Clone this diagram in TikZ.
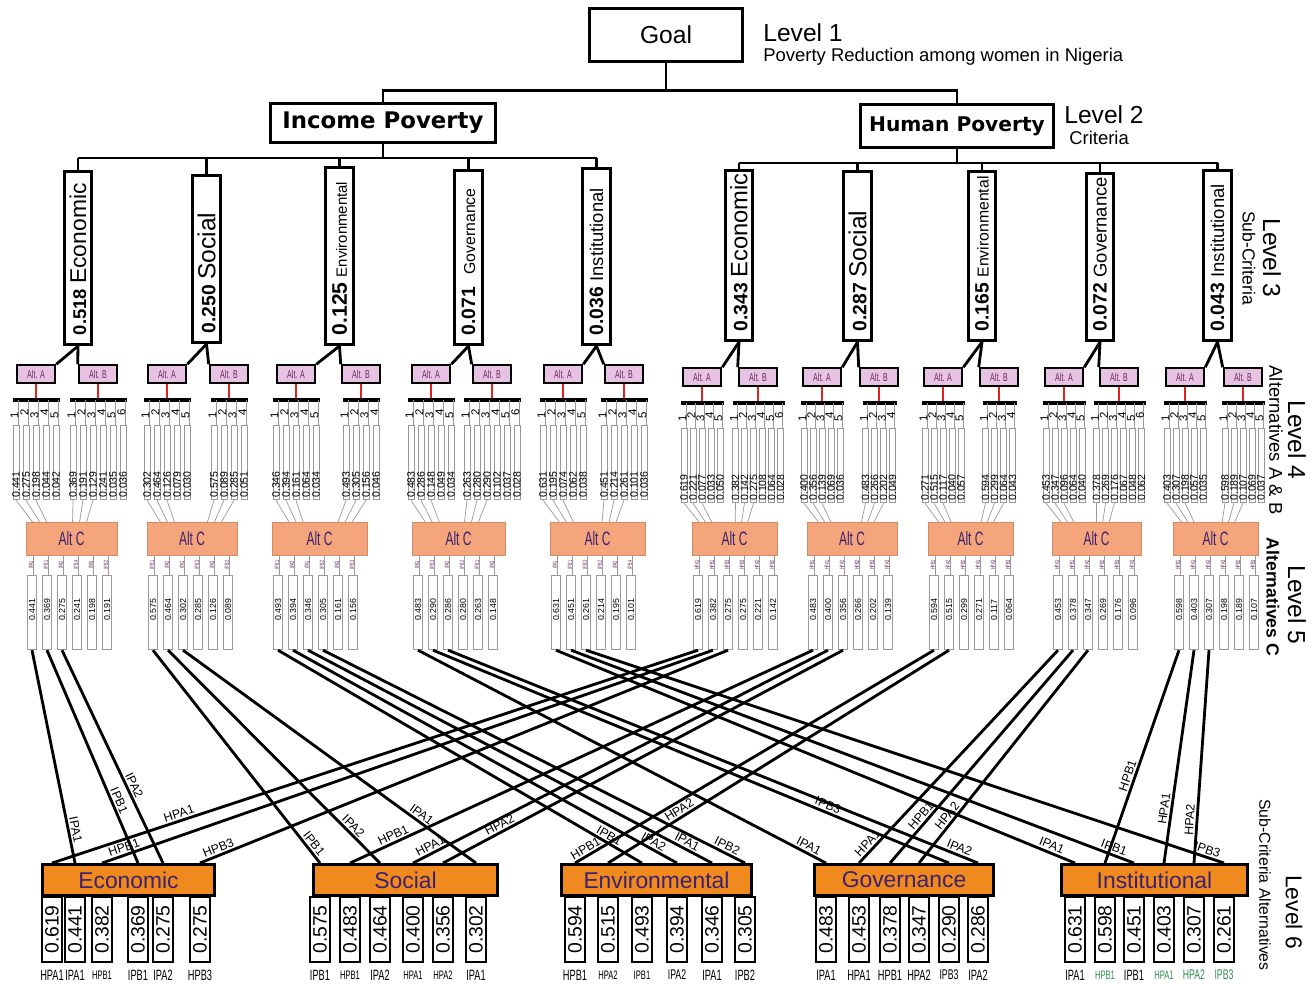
\documentclass[tikz,border=0pt]{standalone}
\usepackage{fontspec}
\setmainfont{Liberation Sans}
\newfontfamily\narrowfont[FakeStretch=0.62]{Liberation Sans}
\newfontfamily\heavyfont{DejaVu Sans}
\definecolor{altPink}{HTML}{E8C2E2}
\definecolor{altRed}{HTML}{E2231B}
\definecolor{altSalmon}{HTML}{F4A57C}
\definecolor{subOrange}{HTML}{F08A1F}
\definecolor{inkPurple}{HTML}{3B2170}
\definecolor{inkPlum}{HTML}{6A2A5E}
\definecolor{labGreen}{HTML}{2F8F4F}
\definecolor{boxGray}{HTML}{999999}
\newcommand{\fsz}[1]{\fontsize{#1}{#1}\selectfont}

% sub-criterion box of level 3
\newcommand{\subc}[8]{%
  \pgfmathsetmacro\boxh{(#4-#3)*0.5669}
  \node[scbox, minimum height=\boxh pt] (#1) at (#2,{(#3+#4)/2}) {};
  \node[sctext] (#1t) at ([yshift=6pt]#1.south) {{\fsz{#6}\bfseries #5}\hspace{3pt}{\fsz{#8}#7}};
}

% alternative A or B with its ranked values (level 4)
\newcommand{\altab}[8]{%
  \node[altbox] (#1) at (#2,374+#3) {#4};
  \coordinate (#1bar) at (#2,400+#3);
  \draw[redlink] (#1.south) -- (#1bar);
  \pgfmathsetmacro\barl{#2-(#5-1)*#6/2-3}
  \pgfmathsetmacro\barr{#2+(#5-1)*#6/2+4}
  \draw[barline] (\barl,400+#3) -- (\barr,400+#3);
  \foreach \v [count=\i] in {#8}{
    \pgfmathsetmacro\rx{#2+(\i-(#5+1)/2)*#6}
    \draw[thinl] (\rx+2,400+#3) -- (\rx+2,425+#3);
    \node[tickno] at (\rx-1.5,{412+#3+mod(\i,2)*3}) {\i};
    \node[valbox] (#1r\i) at (\rx,462.5+#3) {};
    \node[valtxt] at (\rx,498+#3) {\v};
    \ifnum\i<4
      \pgfmathsetmacro\lx{\rx+0.3*(#7-\rx)}
      \coordinate (#1f\i) at (\lx,522);
      \draw[thinl] (#1r\i.south) -- (#1f\i);
    \fi
  }
}

% alternative C with its ranked values (level 5)
\newcommand{\altc}[4]{%
  \pgfmathsetmacro\boxw{(#3-#2)*0.5669}
  \node[altcbox, minimum width=\boxw pt] (#1) at ({(#2+#3)/2},538.5) {Alt C};
  \foreach \l/\v [count=\i] in {#4}{
    \pgfmathsetmacro\rx{#2+6+(\i-1)*15}
    \draw[thinl] (\rx+1.5,555) -- (\rx+1.5,575);
    \node[tinylab] at (\rx-1,565) {\l};
    \node[cbox] (#1r\i) at (\rx,612.5) {};
    \node[ctxt] at (\rx,610) {\v};
  }
}

% sub-criteria alternatives (level 6)
\newcommand{\subalt}[5]{%
  \pgfmathsetmacro\boxw{#3*0.5669}
  \node[l6box, minimum width=\boxw pt] (#1) at (#2,880) {#4};
  \foreach \x/\v/\l/\s/\c [count=\i] in {#5}{
    \node[l6val] (#1r\i) at (\x,929.5) {\v};
    \node[l6lab, text=\c] (#1l\i) at (\x,975) {\fsz{\s}\l};
  }
}

\newcommand{\crossLink}[5]{%
  \draw[link] (#1.south) -- (#3 |- #2.north) node[linklab, pos=#5] {#4};
}

\begin{document}
\begin{tikzpicture}[x=0.02cm,y=-0.02cm,
  tree/.style={line width=1.6pt},
  goalbox/.style={draw, line width=1.7pt, minimum width=87.3pt, minimum height=30pt, font=\fsz{14}},
  critbox/.style={draw, line width=1.7pt, inner sep=0pt, font=\heavyfont\bfseries\fsz{13}},
  lvltxt/.style={anchor=west, inner sep=0pt, font=\fsz{14}},
  subtxt/.style={anchor=west, inner sep=0pt, font=\fsz{10.5}},
  scbox/.style={draw, line width=1.6pt, minimum width=15.5pt, inner sep=0pt},
  sctext/.style={rotate=90, anchor=west, inner sep=0pt},
  altbox/.style={draw, line width=1.1pt, fill=altPink, minimum width=22pt, minimum height=10pt, inner sep=0pt, font=\narrowfont\fsz{6.5}, text=inkPlum},
  redlink/.style={altRed, line width=1.6pt},
  barline/.style={line width=1.8pt},
  thinl/.style={boxGray, line width=0.4pt},
  tickno/.style={rotate=90, inner sep=0pt, font=\fsz{6.5}},
  valbox/.style={draw=boxGray, line width=0.4pt, minimum width=3.4pt, minimum height=42.5pt, inner sep=0pt},
  valtxt/.style={rotate=90, anchor=west, inner sep=0pt, font=\fsz{6}},
  altcbox/.style={fill=altSalmon, draw=altSalmon!85!black, line width=0.3pt, minimum height=18.7pt, inner sep=0pt, font=\narrowfont\fsz{11}, text=inkPurple},
  tinylab/.style={rotate=90, inner sep=0pt, font=\narrowfont\fsz{3.5}, text=inkPlum},
  cbox/.style={draw=boxGray, line width=0.4pt, minimum width=5pt, minimum height=42.5pt, inner sep=0pt},
  ctxt/.style={rotate=90, inner sep=0pt, font=\fsz{5}},
  l6box/.style={draw, line width=1.8pt, fill=subOrange, minimum height=17.5pt, inner sep=0pt, font=\fsz{13}, text=inkPurple},
  l6val/.style={draw, line width=0.9pt, rotate=90, minimum width=36.8pt, minimum height=11.3pt, inner sep=0pt, font=\fsz{11}},
  l6lab/.style={inner sep=0pt, font=\narrowfont},
  link/.style={line width=1.6pt},
  linklab/.style={sloped, above, inner sep=1pt, font=\fsz{7}},
  lvlrot/.style={rotate=-90, inner sep=0pt, font=\fsz{14}},
  subrot/.style={rotate=-90, inner sep=0pt, font=\fsz{10}}]
\path[use as bounding box, fill=white] (0,0) rectangle (1316,984);

% levels 1 and 2
\node[goalbox] (goal) at (666,35) {Goal};
\node[lvltxt] (lv1) at (763,33) {Level 1};
\node[subtxt] (lv1s) at (763,57) {Poverty Reduction among women in Nigeria};
\node[critbox, minimum width=127.6pt, minimum height=22.7pt] (income) at (383,123) {Income Poverty};
\node[critbox, minimum width=110pt, minimum height=24.4pt, font=\heavyfont\bfseries\fsz{11.5}] (human) at (957,126) {Human Poverty};
\node[lvltxt] (lv2) at (1064,115) {Level 2};
\node[subtxt] (lv2s) at (1069,138) {Criteria};
\draw[tree] (income.north) -- ++(0,-11) coordinate (barTop) -| (human.north);
\draw[tree] (goal.south) -- (goal.south |- barTop);

% level 3
\subc{isc1}{78}{171}{345}{0.518}{10.5}{Economic}{13}
\subc{isc2}{206.5}{175}{343}{0.250}{11}{Social}{14}
\subc{isc3}{339.5}{167}{345}{0.125}{12}{Environmental}{8.5}
\subc{isc4}{468.5}{170}{345}{0.071}{11}{\hspace{4pt}Governance}{9}
\subc{isc5}{596.5}{168}{345}{0.036}{11}{Institutional}{10.5}
\subc{hsc1}{739}{170}{341}{0.343}{11}{Economic}{13.5}
\subc{hsc2}{857.5}{171}{341}{0.287}{11}{Social}{14}
\subc{hsc3}{982}{171}{341}{0.165}{11}{Environmental}{9}
\subc{hsc4}{1100}{173}{341}{0.072}{11}{Governance}{10.5}
\subc{hsc5}{1217.5}{170}{341}{0.043}{11}{Institutional}{10.5}
\coordinate (levI) at (0,158);
\coordinate (levH) at (0,163);
\draw[tree] (income.south) -- (income.south |- levI);
\draw[tree] (human.south) -- (human.south |- levH);
\draw[tree] (isc1.north |- levI) -- (isc5.north |- levI);
\draw[tree] (hsc1.north |- levH) -- (hsc5.north |- levH);
\foreach \k in {1,...,5}{
  \draw[tree] (isc\k.north) -- (isc\k.north |- levI);
  \draw[tree] (hsc\k.north) -- (hsc\k.north |- levH);
}
\node[lvlrot] (lv3) at (1272,258) {Level 3};
\node[subrot] (lv3s) at (1249,258) {Sub-Criteria};

% levels 4 and 5, income poverty
\altc{iC1}{26}{117}{IPA1/0.441,IPB1/0.369,IPA2/0.275,IPB4/0.241,IPA3/0.198,IPB2/0.191}
\altab{iA1}{36}{0}{Alt. A}{5}{10}{71.5}{0.441,0.275,0.198,0.044,0.042}
\altab{iB1}{98}{0}{Alt. B}{6}{10}{71.5}{0.369,0.191,0.129,0.241,0.035,0.036}
\altc{iC2}{147}{237}{IPB1/0.575,IPA2/0.464,IPA1/0.302,IPB3/0.285,IPA3/0.126,IPB2/0.089}
\altab{iA2}{167}{0}{Alt. A}{5}{10}{192}{0.302,0.464,0.126,0.079,0.030}
\altab{iB2}{229}{0}{Alt. B}{4}{10}{192}{0.575,0.089,0.285,0.051}
\altc{iC3}{272}{367}{IPB1/0.493,IPA2/0.394,IPA1/0.346,IPB2/0.305,IPA3/0.161,IPB3/0.156}
\altab{iA3}{296}{0}{Alt. A}{5}{10}{319.5}{0.346,0.394,0.161,0.064,0.034}
\altab{iB3}{361}{0}{Alt. B}{4}{10}{319.5}{0.493,0.305,0.156,0.046}
\altc{iC4}{412}{505}{IPA1/0.483,IPB3/0.290,IPA2/0.286,IPB2/0.280,IPB1/0.263,IPA3/0.148}
\altab{iA4}{431}{0}{Alt. A}{5}{10}{458.5}{0.483,0.286,0.148,0.049,0.034}
\altab{iB4}{492}{0}{Alt. B}{6}{10}{458.5}{0.263,0.280,0.290,0.102,0.037,0.028}
\altc{iC5}{550}{645}{IPA1/0.631,IPB1/0.451,IPB3/0.261,IPB2/0.214,IPA2/0.195,IPB4/0.101}
\altab{iA5}{563}{0}{Alt. A}{5}{10}{597.5}{0.631,0.195,0.074,0.062,0.038}
\altab{iB5}{624}{0}{Alt. B}{5}{10}{597.5}{0.451,0.214,0.261,0.101,0.036}

% levels 4 and 5, human poverty
\altc{hC1}{692}{777}{HPA1/0.619,HPB1/0.382,HPB3/0.275,HPB3/0.275,HPA2/0.221,HPB2/0.142}
\altab{hA1}{702}{3}{Alt. A}{5}{9}{734.5}{0.619,0.221,0.077,0.033,0.050}
\altab{hB1}{758}{3}{Alt. B}{6}{9}{734.5}{0.382,0.142,0.275,0.108,0.064,0.028}
\altc{hC2}{807}{897}{HPB1/0.483,HPA1/0.400,HPA2/0.356,HPB2/0.266,HPB3/0.202,HPA3/0.139}
\altab{hA2}{822}{3}{Alt. A}{5}{9}{852}{0.400,0.356,0.139,0.069,0.036}
\altab{hB2}{879}{3}{Alt. B}{4}{9}{852}{0.483,0.266,0.202,0.049}
\altc{hC3}{928}{1013}{HPB1/0.594,HPA2/0.515,HPB2/0.299,HPA1/0.271,HPA3/0.117,HPB3/0.064}
\altab{hA3}{943}{3}{Alt. A}{5}{9}{970.5}{0.271,0.515,0.117,0.040,0.057}
\altab{hB3}{999}{3}{Alt. B}{4}{9}{970.5}{0.594,0.299,0.064,0.043}
\altc{hC4}{1052}{1141}{HPA1/0.453,HPB1/0.378,HPA2/0.347,HPB2/0.269,HPB3/0.176,HPA3/0.096}
\altab{hA4}{1064}{3}{Alt. A}{5}{9}{1096.5}{0.453,0.347,0.096,0.064,0.040}
\altab{hB4}{1119}{3}{Alt. B}{6}{9}{1096.5}{0.378,0.269,0.176,0.067,0.048,0.062}
\altc{hC5}{1173}{1258}{HPB1/0.598,HPA1/0.403,HPA2/0.307,HPA3/0.198,HPB2/0.189,HPB3/0.107}
\altab{hA5}{1185}{3}{Alt. A}{5}{9}{1215.5}{0.403,0.307,0.198,0.057,0.035}
\altab{hB5}{1243}{3}{Alt. B}{5}{9}{1215.5}{0.598,0.189,0.107,0.069,0.037}

\foreach \s/\a/\b in {isc1/iA1/iB1,isc2/iA2/iB2,isc3/iA3/iB3,isc4/iA4/iB4,isc5/iA5/iB5,
                      hsc1/hA1/hB1,hsc2/hA2/hB2,hsc3/hA3/hB3,hsc4/hA4/hB4,hsc5/hA5/hB5}{
  \draw[tree] (\s.south) -- (\a.north east);
  \draw[tree] (\s.south) -- (\b.north west);
}
\node[lvlrot] (lv4) at (1297,440) {Level 4};
\node[subrot, font=\fsz{10.5}] (lv4s) at (1276,440) {Alternatives A \& B};
\node[lvlrot] (lv5) at (1297,605) {Level 5};
\node[subrot, font=\bfseries\fsz{10}] (lv5s) at (1273,597) {Alternatives C};

% level 6
\subalt{ecoS}{128.5}{173}{Economic}{52/0.619/HPA1/8.5/black,75/0.441/IPA1/8.5/black,102/0.382/HPB1/7/black,138/0.369/IPB1/8.5/black,163/0.275/IPA2/8.5/black,200/0.275/HPB3/8.5/black}
\subalt{socS}{405.5}{185}{Social}{320/0.575/IPB1/8.5/black,350/0.483/HPB1/7/black,380/0.464/IPA2/8.5/black,413/0.400/HPA1/7/black,443/0.356/HPA2/7/black,476/0.302/IPA1/8.5/black}
\subalt{envS}{656.5}{191}{Environmental}{575/0.594/HPB1/8.5/black,608/0.515/HPA2/7/black,642/0.493/IPB1/7/black,677/0.394/IPA2/8/black,712/0.346/IPA1/8.5/black,745/0.305/IPB2/8.5/black}
\subalt{govS}{904}{180}{Governance}{826/0.483/IPA1/8.5/black,859/0.453/HPA1/8.5/black,890/0.378/HPB1/8.5/black,919/0.347/HPA2/8.5/black,949/0.290/IPB3/8/black,978/0.286/IPA2/8.5/black}
\subalt{insS}{1154.5}{187}{Institutional}{1075/0.631/IPA1/8.5/black,1105/0.598/HPB1/7/labGreen,1134/0.451/IPB1/8.5/black,1164/0.403/HPA1/7/labGreen,1194/0.307/HPA2/8/labGreen,1224/0.261/IPB3/8/labGreen}
\node[lvlrot, font=\fsz{13}] (lv6) at (1294,912) {Level 6};
\node[subrot, font=\fsz{9}] (lv6s) at (1265,885) {Sub-Criteria Alternatives};

% crossing links from level 5 to level 6
\crossLink{iC1r1}{ecoS}{ecoSr2}{IPA1}{0.85}
\crossLink{iC1r2}{ecoS}{ecoSr4}{IPB1}{0.72}
\crossLink{iC1r3}{ecoS}{ecoSr5}{IPA2}{0.65}
\crossLink{hC1r1}{ecoS}{ecoSr1}{HPA1}{0.8}
\crossLink{hC1r2}{ecoS}{ecoSr3}{HPB1}{0.96}
\crossLink{hC1r3}{ecoS}{ecoSr6}{HPB3}{0.96}
\crossLink{iC2r1}{socS}{socSr1}{IPB1}{0.93}
\crossLink{iC2r2}{socS}{socSr3}{IPA2}{0.85}
\crossLink{iC2r3}{socS}{socSr6}{IPA1}{0.8}
\crossLink{hC2r1}{socS}{socSr2}{HPB1}{0.9}
\crossLink{hC2r2}{socS}{socSr4}{HPA1}{0.95}
\crossLink{hC2r3}{socS}{socSr5}{HPA2}{0.85}
\crossLink{iC3r1}{envS}{envSr3}{IPB1}{0.9}
\crossLink{iC3r2}{envS}{envSr4}{IPA2}{0.93}
\crossLink{iC3r3}{envS}{envSr5}{IPA1}{0.93}
\crossLink{iC3r4}{envS}{envSr6}{IPB2}{0.95}
\crossLink{hC3r1}{envS}{envSr1}{HPB1}{0.96}
\crossLink{hC3r2}{envS}{envSr2}{HPA2}{0.78}
\crossLink{iC4r1}{govS}{govSr1}{IPA1}{0.95}
\crossLink{iC4r2}{govS}{govSr5}{IPB3}{0.76}
\crossLink{iC4r3}{govS}{govSr6}{IPA2}{0.96}
\crossLink{hC4r1}{govS}{govSr2}{HPA1}{0.93}
\crossLink{hC4r2}{govS}{govSr3}{HPB1}{0.8}
\crossLink{hC4r3}{govS}{govSr4}{HPA2}{0.8}
\crossLink{iC5r1}{insS}{insSr1}{IPA1}{0.95}
\crossLink{iC5r2}{insS}{insSr3}{IPB1}{0.96}
\crossLink{iC5r3}{insS}{insSr6}{IPB3}{0.97}
\crossLink{hC5r1}{insS}{insSr2}{HPB1}{0.6}
\crossLink{hC5r2}{insS}{insSr4}{HPA1}{0.75}
\crossLink{hC5r3}{insS}{insSr5}{HPA2}{0.8}
\end{tikzpicture}
\end{document}
